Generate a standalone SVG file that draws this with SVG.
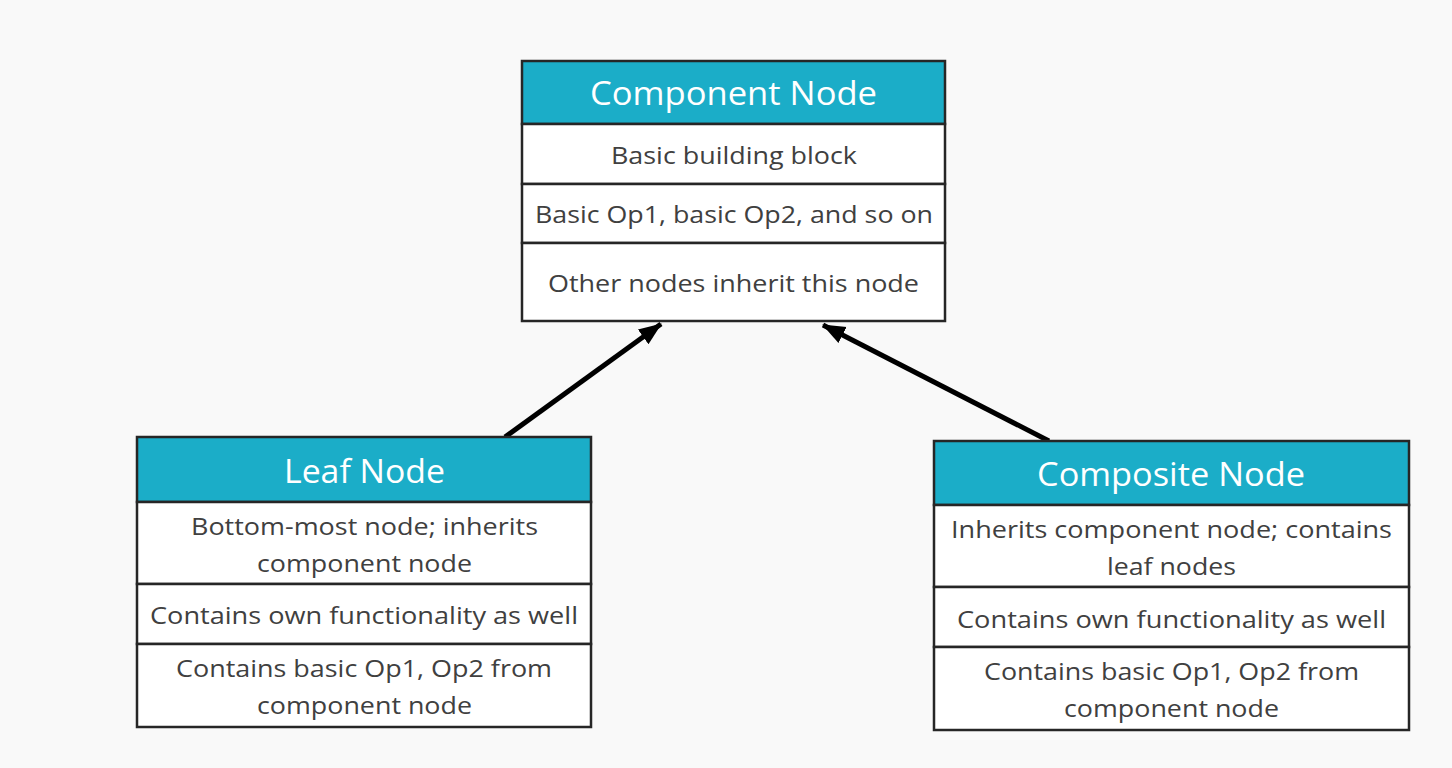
<svg xmlns="http://www.w3.org/2000/svg" width="1452" height="768" viewBox="0 0 1452 768">
<style>
.bg{fill:#f9f9f9}
.hdr{fill:#1badc8;stroke:#262626;stroke-width:2.5}
.row{fill:#ffffff;stroke:#262626;stroke-width:2.5}
.ht{font-family:"Open Sans","Noto Sans",sans-serif;font-size:33px;fill:#ffffff;text-anchor:middle}
.bt{font-family:"Open Sans","Noto Sans",sans-serif;font-size:24px;fill:#404040;text-anchor:middle}
.conn{stroke:#000000;stroke-width:5;fill:none}
</style>
<defs>
<marker id="arr" markerUnits="userSpaceOnUse" markerWidth="26" markerHeight="22" refX="22" refY="11" orient="auto" viewBox="0 0 26 22">
<polygon points="0,2 23,11 0,20" fill="#000000"/>
</marker>
</defs>
<rect class="bg" x="0" y="0" width="1452" height="768"/>
<g id="connectors">
<line class="conn" x1="505" y1="437" x2="661" y2="324" marker-end="url(#arr)"/>
<line class="conn" x1="1049" y1="441" x2="823" y2="325" marker-end="url(#arr)"/>
</g>
<g id="component-node">
<rect class="hdr" x="522" y="61" width="423" height="63"/>
<rect class="row" x="522" y="124" width="423" height="60"/>
<rect class="row" x="522" y="184" width="423" height="59"/>
<rect class="row" x="522" y="243" width="423" height="78"/>
<text class="ht" x="733.5" y="105" textLength="287" lengthAdjust="spacingAndGlyphs">Component Node</text>
<text class="bt" x="734" y="164" textLength="246" lengthAdjust="spacingAndGlyphs">Basic building block</text>
<text class="bt" x="734" y="223" textLength="398" lengthAdjust="spacingAndGlyphs">Basic Op1, basic Op2, and so on</text>
<text class="bt" x="733.5" y="292" textLength="371" lengthAdjust="spacingAndGlyphs">Other nodes inherit this node</text>
</g>
<g id="leaf-node">
<rect class="hdr" x="137" y="437" width="454" height="65"/>
<rect class="row" x="137" y="502" width="454" height="82"/>
<rect class="row" x="137" y="584" width="454" height="60"/>
<rect class="row" x="137" y="644" width="454" height="83"/>
<text class="ht" x="364.5" y="483" textLength="161" lengthAdjust="spacingAndGlyphs">Leaf Node</text>
<text class="bt" x="364.5" y="535" textLength="347" lengthAdjust="spacingAndGlyphs">Bottom-most node; inherits</text>
<text class="bt" x="364.5" y="572" textLength="215" lengthAdjust="spacingAndGlyphs">component node</text>
<text class="bt" x="364" y="624" textLength="428" lengthAdjust="spacingAndGlyphs">Contains own functionality as well</text>
<text class="bt" x="364" y="677" textLength="376" lengthAdjust="spacingAndGlyphs">Contains basic Op1, Op2 from</text>
<text class="bt" x="364.5" y="714" textLength="215" lengthAdjust="spacingAndGlyphs">component node</text>
</g>
<g id="composite-node">
<rect class="hdr" x="934" y="441" width="475" height="64"/>
<rect class="row" x="934" y="505" width="475" height="82"/>
<rect class="row" x="934" y="587" width="475" height="60"/>
<rect class="row" x="934" y="647" width="475" height="83"/>
<text class="ht" x="1171" y="486" textLength="268" lengthAdjust="spacingAndGlyphs">Composite Node</text>
<text class="bt" x="1171.5" y="538" textLength="441" lengthAdjust="spacingAndGlyphs">Inherits component node; contains</text>
<text class="bt" x="1171.5" y="575" textLength="129" lengthAdjust="spacingAndGlyphs">leaf nodes</text>
<text class="bt" x="1171.5" y="628" textLength="429" lengthAdjust="spacingAndGlyphs">Contains own functionality as well</text>
<text class="bt" x="1171.5" y="680" textLength="375" lengthAdjust="spacingAndGlyphs">Contains basic Op1, Op2 from</text>
<text class="bt" x="1171.5" y="717" textLength="215" lengthAdjust="spacingAndGlyphs">component node</text>
</g>
</svg>
